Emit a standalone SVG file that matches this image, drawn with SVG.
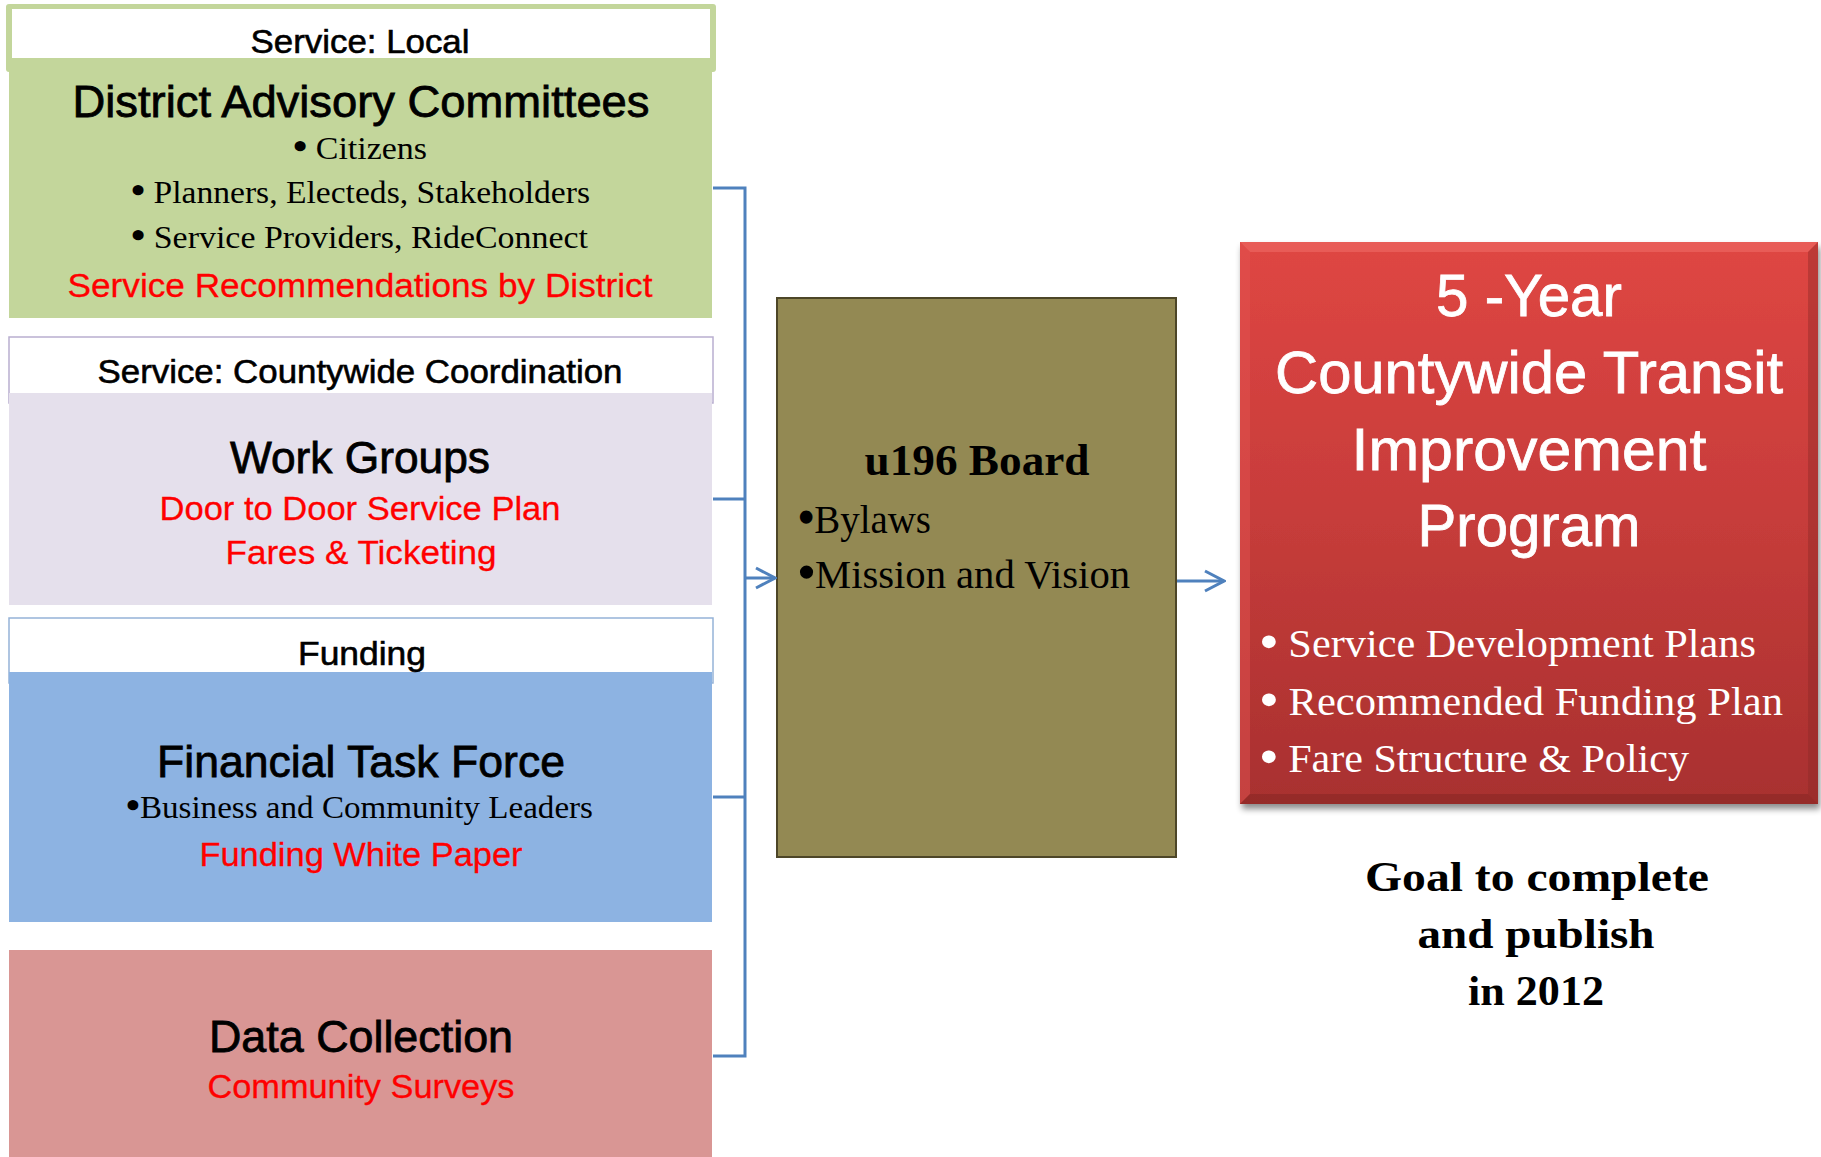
<svg xmlns="http://www.w3.org/2000/svg" width="1821" height="1157" viewBox="0 0 1821 1157">
  <style>
    .sans { font-family: "Liberation Sans", Arial, sans-serif; }
    .serif { font-family: "Liberation Serif", "Times New Roman", serif; }
    .hdr { font-size: 34px; fill: #000; stroke: #000; stroke-width: 0.6px; text-anchor: middle; }
    .ttl { font-size: 45px; fill: #000; stroke: #000; stroke-width: 0.8px; text-anchor: middle; }
    .red { font-size: 34px; fill: #ff0000; stroke: #ff0000; stroke-width: 0.3px; text-anchor: middle; }
    .bul { font-size: 31px; fill: #000; }
    .bd { font-weight: bold; font-size: 1.2em; }
    .conn { fill: none; stroke: #4f81bd; stroke-width: 3; }
    .wt { font-size: 60px; fill: #fff; stroke: #fff; stroke-width: 0.8px; text-anchor: middle; }
    .wb { font-size: 39px; fill: #fff; }
    .goal { font-size: 42px; font-weight: bold; fill: #000; text-anchor: middle; }
  </style>
  <defs>
    <marker id="arr" viewBox="-22 -12 24 24" markerWidth="24" markerHeight="24" refX="0" refY="0" markerUnits="userSpaceOnUse" orient="auto">
      <path d="M-19,-10 L0,0 L-19,10" fill="none" stroke="#4f81bd" stroke-width="3"/>
    </marker>
    <linearGradient id="redg" x1="0" y1="0" x2="0" y2="1">
      <stop offset="0" stop-color="#df4643"/>
      <stop offset="0.5" stop-color="#c63c3a"/>
      <stop offset="1" stop-color="#a8302f"/>
    </linearGradient>
    <filter id="shadow" x="-5%" y="-5%" width="115%" height="115%">
      <feDropShadow dx="2" dy="5" stdDeviation="3" flood-color="#000" flood-opacity="0.45"/>
    </filter>
  </defs>

  <!-- District Advisory Committees -->
  <g id="node-dac">
    <rect x="6" y="4" width="710" height="68" rx="3" fill="#c3d69b"/>
    <rect x="9" y="60" width="703" height="258" fill="#c3d69b"/>
    <rect x="12" y="9" width="698" height="49" fill="#fff"/>
    <text class="sans hdr" x="360" y="53" textLength="219" lengthAdjust="spacingAndGlyphs">Service: Local</text>
    <text class="sans ttl" x="361" y="117" textLength="577" lengthAdjust="spacingAndGlyphs">District Advisory Committees</text>
    <text class="serif bul" x="293" y="159" textLength="134" lengthAdjust="spacingAndGlyphs"><tspan class="bd">•</tspan> Citizens</text>
    <text class="serif bul" x="131" y="203" textLength="459" lengthAdjust="spacingAndGlyphs"><tspan class="bd">•</tspan> Planners, Electeds, Stakeholders</text>
    <text class="serif bul" x="131" y="248" textLength="457" lengthAdjust="spacingAndGlyphs"><tspan class="bd">•</tspan> Service Providers, RideConnect</text>
    <text class="sans red" x="360" y="297" textLength="585" lengthAdjust="spacingAndGlyphs">Service Recommendations by District</text>
  </g>

  <!-- Work Groups -->
  <g id="node-work-groups">
    <rect x="9" y="337" width="704" height="66" fill="#fff" stroke="#b9aed0" stroke-width="1.5"/>
    <rect x="9" y="393" width="703" height="212" fill="#e5e0ec"/>
    <text class="sans hdr" x="360" y="383" textLength="525" lengthAdjust="spacingAndGlyphs">Service: Countywide Coordination</text>
    <text class="sans ttl" x="360" y="473" textLength="260" lengthAdjust="spacingAndGlyphs">Work Groups</text>
    <text class="sans red" x="360" y="520" textLength="401" lengthAdjust="spacingAndGlyphs">Door to Door Service Plan</text>
    <text class="sans red" x="361" y="564" textLength="271" lengthAdjust="spacingAndGlyphs">Fares &amp; Ticketing</text>
  </g>

  <!-- Financial Task Force -->
  <g id="node-ftf">
    <rect x="9" y="618" width="704" height="65" fill="#fff" stroke="#95b3d7" stroke-width="1.5"/>
    <rect x="9" y="672" width="703" height="250" fill="#8db3e2"/>
    <text class="sans hdr" x="362" y="665" textLength="128" lengthAdjust="spacingAndGlyphs">Funding</text>
    <text class="sans ttl" x="361" y="777" textLength="408" lengthAdjust="spacingAndGlyphs">Financial Task Force</text>
    <text class="serif bul" x="126" y="818" textLength="467" lengthAdjust="spacingAndGlyphs"><tspan class="bd">•</tspan>Business and Community Leaders</text>
    <text class="sans red" x="361" y="866" textLength="323" lengthAdjust="spacingAndGlyphs">Funding White Paper</text>
  </g>

  <!-- Data Collection -->
  <g id="node-data">
    <rect x="9" y="950" width="703" height="207" fill="#d99694"/>
    <text class="sans ttl" x="361" y="1052" textLength="304" lengthAdjust="spacingAndGlyphs">Data Collection</text>
    <text class="sans red" x="361" y="1098" textLength="307" lengthAdjust="spacingAndGlyphs">Community Surveys</text>
  </g>

  <!-- Board -->
  <g id="node-board">
    <rect x="777" y="298" width="399" height="559" fill="#938953" stroke="#4d4628" stroke-width="2"/>
    <text class="serif" x="977" y="475" font-size="44" font-weight="bold" text-anchor="middle" textLength="225" lengthAdjust="spacingAndGlyphs">u196 Board</text>
    <text class="serif" x="798" y="533" font-size="40" textLength="133" lengthAdjust="spacingAndGlyphs"><tspan class="bd">•</tspan>Bylaws</text>
    <text class="serif" x="798" y="588" font-size="40" textLength="332" lengthAdjust="spacingAndGlyphs"><tspan class="bd">•</tspan>Mission and Vision</text>
  </g>

  <!-- 5-Year program -->
  <g id="node-program">
    <rect x="1240" y="242" width="578" height="562" fill="url(#redg)" filter="url(#shadow)"/>
    <polygon points="1240,242 1818,242 1808,252 1250,252" fill="#ee6a66" opacity="0.6"/>
    <polygon points="1240,242 1250,252 1250,794 1240,804" fill="#e2524f" opacity="0.5"/>
    <polygon points="1240,804 1250,794 1808,794 1818,804" fill="#7e2422" opacity="0.45"/>
    <polygon points="1818,242 1808,252 1808,794 1818,804" fill="#8a2725" opacity="0.4"/>
    <text class="sans wt" x="1529" y="316" textLength="186" lengthAdjust="spacingAndGlyphs">5 -Year</text>
    <text class="sans wt" x="1529" y="393" textLength="508" lengthAdjust="spacingAndGlyphs">Countywide Transit</text>
    <text class="sans wt" x="1529" y="470" textLength="355" lengthAdjust="spacingAndGlyphs">Improvement</text>
    <text class="sans wt" x="1529" y="546" textLength="223" lengthAdjust="spacingAndGlyphs">Program</text>
    <text class="serif wb" x="1260" y="657" textLength="496" lengthAdjust="spacingAndGlyphs"><tspan class="bd">•</tspan> Service Development Plans</text>
    <text class="serif wb" x="1260" y="715" textLength="523" lengthAdjust="spacingAndGlyphs"><tspan class="bd">•</tspan> Recommended Funding Plan</text>
    <text class="serif wb" x="1260" y="772" textLength="429" lengthAdjust="spacingAndGlyphs"><tspan class="bd">•</tspan> Fare Structure &amp; Policy</text>
  </g>

  <!-- Goal note -->
  <g id="node-goal">
    <text class="serif goal" x="1537" y="891" textLength="344" lengthAdjust="spacingAndGlyphs">Goal to complete</text>
    <text class="serif goal" x="1536" y="948" textLength="237" lengthAdjust="spacingAndGlyphs">and publish</text>
    <text class="serif goal" x="1536" y="1005" textLength="136" lengthAdjust="spacingAndGlyphs">in 2012</text>
  </g>

  <!-- Connectors -->
  <g id="connectors">
    <path class="conn" d="M713,188 H745 V1056 H713"/>
    <path class="conn" d="M713,499 H745"/>
    <path class="conn" d="M713,797 H745"/>
    <path class="conn" d="M745,578 H775" marker-end="url(#arr)"/>
    <path class="conn" d="M1177,581 H1224" marker-end="url(#arr)"/>
  </g>
</svg>
